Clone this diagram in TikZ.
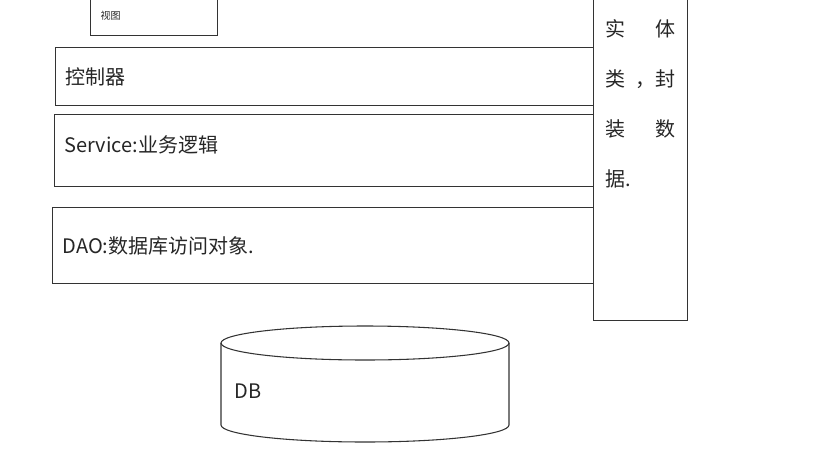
\documentclass[tikz,border=0pt]{standalone}
\usepackage{fontspec}
\setmainfont{Noto Sans CJK SC}
\newdimen\pxu \pxu=0.75pt
\begin{document}
\begin{tikzpicture}[x=\pxu, y=-\pxu,
  layer/.style={draw=black!80, line width=0.9pt, rectangle, anchor=north west, align=left, inner xsep=10\pxu, inner ysep=0pt, text=black!85, font=\fontsize{15}{18}\selectfont},
  tag/.style={anchor=west, inner sep=0pt, text=black!85, font=\fontsize{15}{18}\selectfont}]
  \useasboundingbox (0,0) rectangle (816,471);
  \node[layer, minimum height=39\pxu, text width=107\pxu, font=\fontsize{7.5}{9}\selectfont] (view) at (90,-4) {视图};
  \node[layer, minimum height=58\pxu, text width=518\pxu] (ctrl) at (55,47) {控制器};
  \node[layer, minimum height=72\pxu, text width=519\pxu, text depth=14\pxu] (service) at (54,114) {Service:业务逻辑};
  \node[layer, minimum height=76\pxu, text width=521\pxu] (dao) at (52,207) {DAO:数据库访问对象.};
  \node[layer, fill=white, inner sep=0pt, minimum width=94\pxu, minimum height=330\pxu] (entity) at (593,-10) {};
  \node[anchor=north west, inner sep=0pt, align=left, text width=70\pxu, text=black!85, font=\fontsize{15}{37.5}\selectfont] (entitytext) at (605,19)
    {实\hfill 体\\ 类\hfill ，封\\ 装\hfill 数\\ 据.};
  \draw[draw=black!80, line width=0.8pt] (365,343) ellipse [x radius=144\pxu, y radius=17\pxu];
  \draw[draw=black!80, line width=0.8pt] (221,343) -- (221,425) arc [start angle=180, end angle=360, x radius=144\pxu, y radius=17\pxu] -- (509,343);
  \node[tag] (db) at (234,391) {DB};
\end{tikzpicture}
\end{document}
